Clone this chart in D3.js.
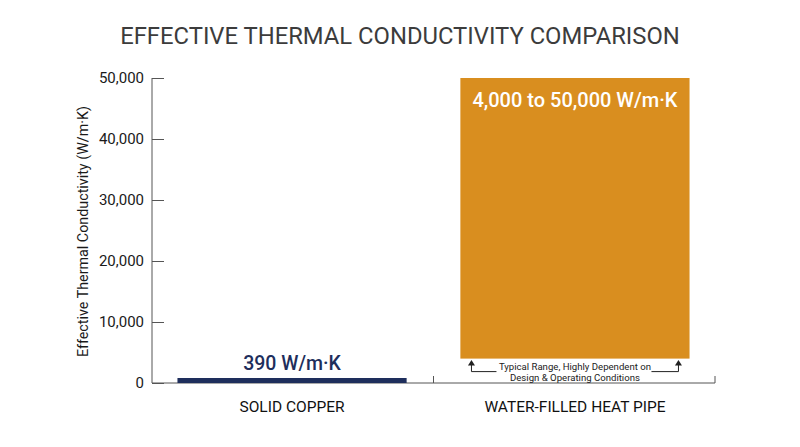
<!DOCTYPE html>
<html><head><meta charset="utf-8">
<script src="https://cdn.jsdelivr.net/npm/d3@7"></script>
<style>
body{margin:0;background:#fff;}
text{font-family:Roboto,"Open Sans",sans-serif;}
</style></head>
<body><svg id="c" width="800" height="447"></svg>
<script>
const categories = ["SOLID COPPER", "WATER-FILLED HEAT PIPE"];
const lowValues = [0, 4000];
const highValues = [390, 50000];
const barLabels = ["390 W/m·K", "4,000 to 50,000 W/m·K"];
const yTicks = [0, 10000, 20000, 30000, 40000, 50000];
const colors = ["#1E2E5C", "#D98E1F"];
const noteLines = ["Typical Range, Highly Dependent on", "Design & Operating Conditions"];

const svg = d3.select("#c");
const m = {l:152, r:715, t:78, b:383};
const x = d3.scaleBand().domain(categories).range([m.l, m.r]).paddingInner(0.19).paddingOuter(0.09);
const y = d3.scaleLinear().domain([0, 50000]).range([m.b, m.t]);

svg.append("text").attr("x",400).attr("y",44).attr("text-anchor","middle")
  .attr("font-size",23.8).attr("fill","#3c3c3c").text("EFFECTIVE THERMAL CONDUCTIVITY COMPARISON");

// y axis
const ya = svg.append("g").attr("transform",`translate(${m.l},0)`)
  .call(d3.axisRight(y).tickValues(yTicks).tickSize(12).tickFormat(d3.format(",")));
ya.select(".domain").attr("stroke","#555").attr("d",`M0,${m.t}V${m.b}`);
ya.selectAll(".tick line").attr("stroke","#555");
ya.selectAll(".tick text").attr("x",-8).attr("text-anchor","end").attr("font-size",15).attr("fill","#1a1a1a").attr("font-family","Roboto");

svg.append("text").attr("transform",`translate(88,${(m.t+m.b)/2+1}) rotate(-90)`)
  .attr("text-anchor","middle").attr("font-size",14.3).attr("fill","#1a1a1a").text("Effective Thermal Conductivity (W/m·K)");

// x axis
const xa = svg.append("g");
xa.append("line").attr("x1",m.l).attr("x2",m.r).attr("y1",m.b).attr("y2",m.b).attr("stroke","#555");
const step = x.step();
[x(categories[1]) - x.paddingInner()*step/2 , m.r].forEach(px=>{
  xa.append("line").attr("x1",px).attr("x2",px).attr("y1",m.b).attr("y2",m.b-7).attr("stroke","#555");
});
categories.forEach(c=>{
  svg.append("text").attr("x",x(c)+x.bandwidth()/2).attr("y",412).attr("text-anchor","middle")
    .attr("font-size",15.5).attr("fill","#111").text(c);
});

// bars
categories.forEach((c,i)=>{
  const top = y(highValues[i]);
  const bot = y(lowValues[i]);
  const h = Math.max(bot-top, 5);
  svg.append("rect").attr("x",x(c)).attr("width",x.bandwidth())
    .attr("y",bot-h).attr("height",h).attr("fill",colors[i]);
});

// labels
svg.append("text").attr("x",x(categories[0])+x.bandwidth()/2).attr("y",y(0)-5-8)
  .attr("text-anchor","middle").attr("font-size",19.5).attr("font-weight",500).attr("fill","#1E2E5C").text(barLabels[0]);
svg.append("text").attr("x",x(categories[1])+x.bandwidth()/2).attr("y",y(highValues[1])+29)
  .attr("text-anchor","middle").attr("font-size",20).attr("font-weight",500).attr("fill","#fff").text(barLabels[1]);

// annotation
const cx = x(categories[1])+x.bandwidth()/2;
const yb = y(lowValues[1]);
const aL = cx-103.5, aR = cx+103.5;
const g = svg.append("g").attr("stroke","#222").attr("stroke-width",1).attr("fill","none");
g.append("path").attr("d",`M${aL},${yb+6}V${yb+13}H${aL+25}`);
g.append("path").attr("d",`M${aR},${yb+6}V${yb+13}H${aR-27}`);
svg.append("path").attr("d",`M${aL-3.5},${yb+7}L${aL},${yb+1.5}L${aL+3.5},${yb+7}Z`).attr("fill","#222");
svg.append("path").attr("d",`M${aR-3.5},${yb+7}L${aR},${yb+1.5}L${aR+3.5},${yb+7}Z`).attr("fill","#222");
noteLines.forEach((t,i)=>{
  svg.append("text").attr("x",cx).attr("y",yb+11+i*11).attr("text-anchor","middle")
    .attr("font-size",9.6).attr("fill","#222").text(t);
});
</script></body></html>
